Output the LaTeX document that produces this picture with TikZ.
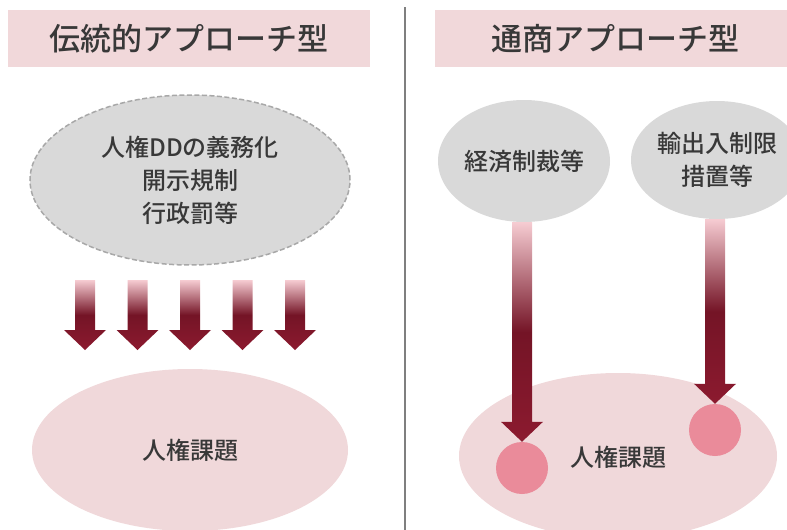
\documentclass[tikz,border=0pt]{standalone}
\usepackage{fontspec}
\setmainfont{Noto Sans CJK JP}[BoldFont={Noto Sans CJK JP Medium}]
\usetikzlibrary{shapes.geometric,calc}
\definecolor{hdrfill}{HTML}{F1D8DA}
\definecolor{txt}{HTML}{383838}
\definecolor{grayfill}{HTML}{D9D9D9}
\definecolor{grayline}{HTML}{A8A8A8}
\definecolor{pinkfill}{HTML}{F0D8DA}
\definecolor{dotfill}{HTML}{EA8B9A}
\definecolor{arrtop}{HTML}{F6CCD2}
\definecolor{arrmid}{HTML}{741426}
\definecolor{arrbot}{HTML}{8C1A2F}
\definecolor{divider}{HTML}{7F7F7F}
\tikzset{
  hdrbox/.style={fill=hdrfill, draw=none, inner sep=0pt, text=txt,
    font=\bfseries\fontsize{31}{36}\selectfont},
  bodytext/.style={text=txt, font=\bfseries\fontsize{24}{33}\selectfont, align=center},
  cloud/.style={ellipse, fill=grayfill, inner sep=0pt, bodytext},
  issue/.style={ellipse, fill=pinkfill, inner sep=0pt, bodytext},
  dot/.style={circle, fill=dotfill, inner sep=0pt, minimum size=52},
  fatarrow/.style={top color=arrtop, bottom color=arrbot, middle color=arrmid, draw=none}
}
\newcommand{\fatarrowpath}[3]{% x, ytop, ytip
  \shade[fatarrow] (#1-10,#2) -- (#1+10,#2) -- (#1+10,#3-20) -- (#1+21,#3-20)
    -- (#1,#3) -- (#1-21,#3-20) -- (#1-10,#3-20) -- cycle;}
\begin{document}
\begin{tikzpicture}[x=1pt,y=-1pt]
\useasboundingbox (0,0) rectangle (787,530);
% headers
\node[hdrbox, minimum width=362, minimum height=57] (hL) at (189,38.5) {伝統的アプローチ型};
\node[hdrbox, minimum width=360, minimum height=57] (hR) at (615,38.5) {通商アプローチ型};
% divider
\coordinate (dtop) at (405,7);
\coordinate (dbot) at (405,530);
\draw[divider, line width=1.6pt] (dtop) -- (dbot);
% left side
\node[cloud, draw=grayline, line width=1.5pt, dash pattern=on 5pt off 2.5pt,
  minimum width=320, minimum height=170] (policy) at (190,180)
  {人権DDの義務化\\開示規制\\行政罰等};
\node[issue, minimum width=316, minimum height=162] (issueL) at (190,450) {人権課題};
\foreach \xx in {85,137.5,190,242.5,295} {\fatarrowpath{\xx}{280}{350}}
% right side
\node[issue, minimum width=318, minimum height=166] (issueR) at (618,456) {};
\node[bodytext] (issueRt) at (618,457) {人権課題};
\node[cloud, minimum width=172, minimum height=122] (sanction) at (524,161) {経済制裁等};
\node[cloud, minimum width=172, minimum height=118] (trade) at (717,160) {輸出入制限\\措置等};
\node[dot] (dot1) at (522,468) {};
\node[dot] (dot2) at (715,430) {};
\shade[fatarrow] let \p1=(sanction.south), \p2=(dot1.north) in
  (\x2-10pt,\y1) -- (\x2+10pt,\y1) -- (\x2+10pt,\y2+20pt) -- (\x2+21pt,\y2+20pt)
  -- (\x2,\y2) -- (\x2-21pt,\y2+20pt) -- (\x2-10pt,\y2+20pt) -- cycle;
\shade[fatarrow] let \p1=(trade.south), \p2=(dot2.north) in
  (\x2-10pt,\y1) -- (\x2+10pt,\y1) -- (\x2+10pt,\y2+20pt) -- (\x2+21pt,\y2+20pt)
  -- (\x2,\y2) -- (\x2-21pt,\y2+20pt) -- (\x2-10pt,\y2+20pt) -- cycle;
\end{tikzpicture}
\end{document}
